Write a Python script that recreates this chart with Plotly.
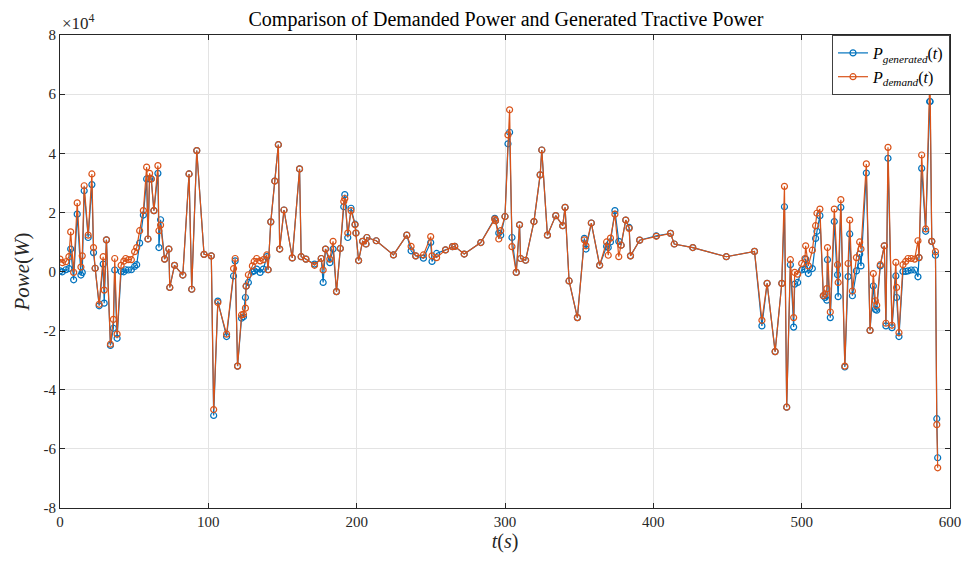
import plotly.graph_objects as go

t = [0, 1.6, 4.0, 6.0, 7.2, 9.2, 11.6, 14.1, 15.0, 16.3, 19.0, 21.5, 22.6, 23.7, 26.4, 29.1, 29.8, 31.3,
     34.0, 36.0, 36.9, 38.5, 41.2, 43.0, 44.3, 46.1, 48.1, 50.3, 51.7, 53.7, 56.2, 58.4, 59.3, 60.4,
     61.5, 63.3, 66.0, 66.7, 67.8, 70.5, 73.4, 74.0, 77.2, 82.8, 87.0, 88.8, 92.2, 97.1, 102.0, 103.6,
     106.4, 112.3, 117.0, 118.1, 119.7, 122.4, 123.7, 125.0, 125.5, 127.0, 129.7, 130.9, 132.6, 134.9,
     137.1, 139.4, 140.3, 142.1, 144.8, 147.2, 148.1, 151.0, 156.6, 161.5, 162.6, 165.8, 171.6, 176.1,
     177.4, 179.0, 181.9, 184.1, 186.4, 189.0, 191.3, 192.0, 194.0, 196.2, 198.9, 199.5, 201.3, 204.0,
     206.3, 206.9, 213.2, 224.8, 233.8, 236.7, 239.8, 245.0, 249.9, 250.8, 253.9, 259.9, 264.6, 266.1,
     272.5, 283.7, 293.1, 293.6, 295.8, 297.1, 300.0, 302.0, 303.1, 304.7, 307.6, 309.8, 310.5, 313.9,
     319.5, 323.7, 324.8, 328.6, 334.2, 338.9, 340.5, 343.2, 348.8, 353.5, 354.6, 358.2, 363.8, 368.5,
     369.6, 371.1, 374.1, 376.7, 378.3, 381.4, 383.7, 384.6, 390.8, 402.0, 411.6, 414.1, 426.6, 449.2,
     468.2, 473.2, 476.7, 482.1, 486.6, 488.4, 489.9, 492.4, 494.6, 495.3, 497.3, 500.0, 502.2, 502.7,
     504.5, 507.2, 509.4, 510.3, 512.3, 514.6, 515.7, 517.0, 517.4, 519.3, 522.0, 524.2, 524.6, 526.4,
     529.1, 531.3, 532.4, 534.2, 536.9, 539.1, 540.0, 543.6, 546.1, 548.3, 549.7, 550.6, 553.0, 555.7,
     556.8, 558.2, 560.9, 563.5, 564.0, 565.6, 568.3, 570.1, 571.7, 573.9, 576.2, 578.4, 579.1, 580.9,
     583.6, 586.3, 586.6, 587.7, 590.2, 591.1, 591.7]

# values in units of 1e4 W
demand_e4 = [0.42, 0.30, 0.33, 0.50, 1.34, -0.03, 2.32, 0.15, 0.53, 2.90, 1.23, 3.30, 0.81, 0.11, -1.11, 0.50, -0.63, 1.07,
             -2.46, -1.62, 0.44, -2.12, 0.21, 0.35, 0.44, 0.40, 0.40, 0.67, 0.81, 1.38, 2.06, 3.53, 1.10, 3.32,
             3.13, 2.06, 3.58, 1.38, 1.57, 0.42, 0.76, -0.54, 0.21, -0.12, 3.30, -0.60, 4.09, 0.58, 0.53, -4.67,
             -1.05, -2.12, 0.10, 0.44, -3.20, -1.47, -1.45, -1.24, -0.49, -0.11, 0.19, 0.34, 0.44, 0.36,
             0.40, 0.56, 0.06, 1.68, 3.06, 4.29, 0.76, 2.08, 0.46, 3.47, 0.50, 0.42, 0.21, 0.44,
             0.05, 0.76, 0.42, 1.02, -0.68, 0.78, 2.37, 2.47, 1.30, 2.06, 1.58, 1.30, 0.37, 1.02,
             0.93, 1.15, 1.04, 0.56, 1.23, 0.85, 0.53, 0.56, 1.18, 0.53, 0.47, 0.73, 0.84, 0.85,
             0.59, 0.98, 1.77, 1.72, 1.10, 1.38, 1.86, 4.62, 5.47, 0.84, -0.03, 1.58, 0.44, 0.38,
             1.69, 3.27, 4.11, 1.23, 1.89, 1.55, 2.17, -0.32, -1.56, 1.07, 0.87, 1.64, 0.21, 1.00,
             0.55, 1.13, 1.94, 0.50, 0.89, 1.74, 1.46, 0.53, 1.06, 1.19, 1.29, 0.93, 0.81, 0.50,
             0.68, -1.65, -0.40, -2.71, -0.40, 2.88, -4.59, 0.40, -1.56, -0.03, -0.09, 0.27, 0.44, 0.87,
             0.19, 0.72, 1.55, 1.97, 2.11, -0.82, -0.77, -0.58, 0.81, -1.37, 2.11, 0.23, -0.37, 2.43,
             -3.20, 0.27, 1.74, -0.66, 0.47, 1.00, 0.76, 3.64, -1.99, -0.07, -0.99, -1.14, 0.23, 0.87,
             -1.75, 4.20, -1.82, 0.31, -0.54, -2.07, 0.23, 0.34, 0.44, 0.44, 0.42, 1.04, 0.47, 3.94,
             1.44, 6.37, 6.27, 1.02, 0.67, -5.18, -6.64]

generated_e4 = [0.02, -0.01, 0.06, 0.10, 0.76, -0.28, 1.94, -0.12, -0.03, 2.73, 1.15, 2.94, 0.64, 0.11, -1.16, 0.25, -1.07, 1.07,
                -2.50, -1.92, 0.05, -2.26, 0.00, -0.01, 0.06, 0.05, 0.06, 0.17, 0.23, 0.96, 1.91, 3.13, 1.10, 3.13,
                3.13, 2.06, 3.32, 0.81, 1.75, 0.42, 0.76, -0.54, 0.21, -0.12, 3.30, -0.60, 4.09, 0.58, 0.53, -4.87,
                -1.00, -2.20, -0.15, 0.36, -3.20, -1.58, -1.53, -0.88, -0.50, -0.37, -0.01, 0.02, 0.08, -0.03,
                0.08, 0.50, 0.06, 1.68, 3.06, 4.29, 0.76, 2.08, 0.46, 3.47, 0.50, 0.42, 0.25, 0.44,
                -0.37, 0.76, 0.30, 0.76, -0.68, 0.78, 2.19, 2.60, 1.15, 2.14, 1.60, 1.30, 0.37, 1.02,
                0.93, 1.15, 1.04, 0.56, 1.23, 0.70, 0.53, 0.45, 0.98, 0.34, 0.61, 0.73, 0.84, 0.85,
                0.59, 0.98, 1.80, 1.72, 1.30, 1.23, 1.86, 4.32, 4.71, 1.15, -0.03, 1.58, 0.44, 0.38,
                1.69, 3.27, 4.11, 1.23, 1.89, 1.55, 2.17, -0.32, -1.56, 1.12, 0.76, 1.64, 0.21, 0.85,
                0.81, 1.00, 2.06, 1.02, 0.89, 1.74, 1.49, 0.53, 1.06, 1.21, 1.29, 0.93, 0.81, 0.50,
                0.68, -1.84, -0.40, -2.71, -0.40, 2.19, -4.59, 0.23, -1.88, -0.43, -0.37, 0.05, 0.08, 0.42,
                -0.07, 0.10, 1.12, 1.36, 1.89, -0.82, -0.88, -0.97, 0.40, -1.56, 1.69, -0.11, -0.85, 2.17,
                -3.23, -0.17, 1.27, -0.82, 0.02, 0.59, 0.19, 3.33, -1.99, -0.49, -1.28, -1.31, 0.19, 0.87,
                -1.84, 3.83, -1.90, -0.15, -0.88, -2.20, 0.00, 0.00, 0.02, 0.05, 0.05, -0.18, 0.47, 3.49,
                1.36, 5.75, 5.75, 1.02, 0.55, -4.98, -6.30]

demand = [v * 1e4 for v in demand_e4]
generated = [v * 1e4 for v in generated_e4]

x_ticks = [0, 100, 200, 300, 400, 500, 600]
y_ticks = [-8e4, -6e4, -4e4, -2e4, 0, 2e4, 4e4, 6e4, 8e4]
y_tick_labels = ["-8", "-6", "-4", "-2", "0", "2", "4", "6", "8"]

BLUE = "#0072BD"
ORANGE = "#D95319"
FONT = "Liberation Serif"

fig = go.Figure()
fig.add_trace(go.Scatter(
    x=t, y=generated, mode="lines+markers",
    name="<i>P</i><sub><i>generated</i></sub>(<i>t</i>)",
    line=dict(color=BLUE, width=1.2),
    marker=dict(symbol="circle-open", size=6, color=BLUE, line=dict(width=1.2)),
))
fig.add_trace(go.Scatter(
    x=t, y=demand, mode="lines+markers",
    name="<i>P</i><sub><i>demand</i></sub>(<i>t</i>)",
    line=dict(color=ORANGE, width=1.2),
    marker=dict(symbol="circle-open", size=6, color=ORANGE, line=dict(width=1.2)),
))

axis_common = dict(
    showgrid=True, gridcolor="#e3e3e3", gridwidth=1,
    showline=True, linecolor="#262626", linewidth=1, mirror="ticks",
    ticks="inside", ticklen=5, tickcolor="#262626",
    zeroline=False,
    tickfont=dict(family=FONT, size=15, color="#262626"),
)

fig.update_xaxes(
    range=[0, 600], tickvals=x_ticks,
    title=dict(text="<i>t</i>(<i>s</i>)", font=dict(family=FONT, size=20, color="#262626"), standoff=4),
    **axis_common,
)
fig.update_yaxes(
    range=[-8e4, 8e4], tickvals=y_ticks, ticktext=y_tick_labels,
    title=dict(text="<i>Powe</i>(<i>W</i>)", font=dict(family=FONT, size=21, color="#262626"), standoff=8),
    **axis_common,
)

fig.update_layout(
    width=973, height=561,
    margin=dict(l=60, r=19, t=35, b=53),
    paper_bgcolor="white", plot_bgcolor="white",
    title=dict(text="Comparison of Demanded Power and Generated Tractive Power",
               x=0.52, xanchor="center", y=0.979, yanchor="top",
               font=dict(family=FONT, size=20, color="#000000")),
    showlegend=True,
    legend=dict(x=1, y=1, xanchor="right", yanchor="top",
                bgcolor="white", bordercolor="#404040", borderwidth=1,
                font=dict(family=FONT, size=16, color="#000000"),
                tracegroupgap=0, itemwidth=30),
    annotations=[dict(text="×10<sup>4</sup>", xref="paper", yref="paper", x=0, y=1,
                      xanchor="left", yanchor="bottom", showarrow=False,
                      font=dict(family=FONT, size=17, color="#262626"))],
)

fig.write_html("out.html")
